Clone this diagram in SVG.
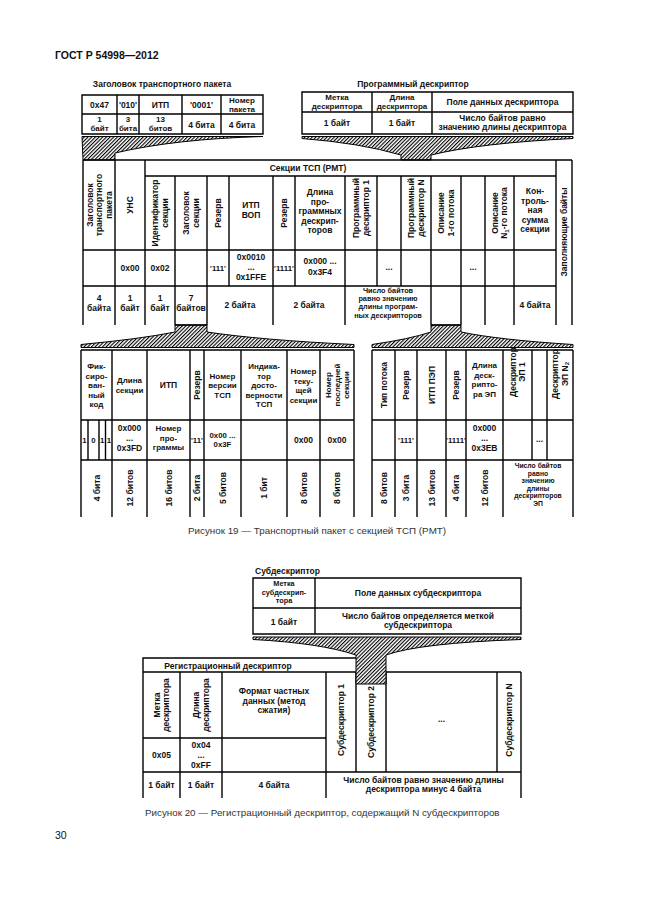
<svg xmlns="http://www.w3.org/2000/svg" width="646" height="913" viewBox="0 0 646 913">
<defs>
<pattern id="hatch" patternUnits="userSpaceOnUse" width="2.6" height="2.6" patternTransform="rotate(45)"><rect width="1.1" height="2.6" fill="#000"/></pattern>
<style>
.t{font-family:"Liberation Sans",Arial,sans-serif;font-weight:bold;font-size:8.5px;text-anchor:middle;fill:#111}
.s{font-size:7.8px}
.e{font-size:8px}
.m{font-size:7.3px}
.xs{font-size:6.8px}
.l{text-anchor:start}
.cap{font-family:"Liberation Sans",Arial,sans-serif;font-size:9.8px;fill:#333}
.g{font-family:"Liberation Sans",Arial,sans-serif;font-weight:bold;font-size:10.5px;fill:#111}
.ln{stroke:#000;stroke-width:1.4;fill:none}
.fn{fill:url(#hatch);stroke:#000;stroke-width:1}
.wh{fill:#fff;stroke:none}
</style>
</defs>
<rect width="646" height="913" fill="#fff"/>
<text class="g" x="55" y="59">ГОСТ Р 54998—2012</text>

<g id="transport-header">
<text class="t" x="162" y="87">Заголовок транспортного пакета</text>
<path class="ln" d="M82,95H263V134H82Z M82,114H263 M117,95V134 M139,95V134 M182,95V134 M221,95V134"/>
<text class="t" x="99.5" y="107.5">0x47</text>
<text class="t" x="128" y="107.5">'010'</text>
<text class="t" x="160.5" y="107.5">ИТП</text>
<text class="t" x="201.5" y="107.5">'0001'</text>
<text class="t e"><tspan x="242" y="103">Номер</tspan><tspan x="242" y="112">пакета</tspan></text>
<text class="t e"><tspan x="99.5" y="122">1</tspan><tspan x="99.5" y="131">байт</tspan></text>
<text class="t e"><tspan x="128" y="122">3</tspan><tspan x="128" y="131">бита</tspan></text>
<text class="t e"><tspan x="160.5" y="122">13</tspan><tspan x="160.5" y="131">битов</tspan></text>
<text class="t" x="201.5" y="127.5">4 бита</text>
<text class="t" x="242" y="127.5">4 бита</text>
</g>

<g id="program-descriptor">
<text class="t" x="413" y="87">Программный дескриптор</text>
<path class="ln" d="M302,92H573V134H302Z M302,112H573 M372,92V134 M432,92V134"/>
<text class="t e"><tspan x="337" y="100">Метка</tspan><tspan x="337" y="109">дескриптора</tspan></text>
<text class="t e"><tspan x="402" y="100">Длина</tspan><tspan x="402" y="109">дескриптора</tspan></text>
<text class="t" x="502.5" y="105">Поле данных дескриптора</text>
<text class="t" x="337" y="126">1 байт</text>
<text class="t" x="402" y="126">1 байт</text>
<text class="t"><tspan x="502.5" y="120.5">Число байтов равно</tspan><tspan x="502.5" y="130.1">значению длины дескриптора</tspan></text>
</g>

<g id="pmt-section">
<path class="ln" d="M83,160H572 M83,160V325 M572,160V325 M115,160V325 M145,160V325 M556,160V325 M145,176H556 M175,176V325 M207,176V325 M273,176V325 M345,176V325 M431,176V325 M461,176V325 M485,176V325 M514,176V325 M229,176V286 M295,176V286 M377,176V286 M401,176V286 M83,250H556 M83,286H556 M175,325H207 M431,325H461"/>
<text class="t" x="308" y="171">Секции ТСП (PMT)</text>
<text class="t" transform="translate(99,205) rotate(-90)"><tspan x="0" y="-6.5">Заголовок</tspan><tspan x="0" y="3">транспортного</tspan><tspan x="0" y="12.5">пакета</tspan></text>
<text class="t" transform="translate(130,205) rotate(-90)" x="0" y="3">УНС</text>
<text class="t" transform="translate(160,213) rotate(-90)"><tspan x="0" y="-1.75">Идентификатор</tspan><tspan x="0" y="7.75">секции</tspan></text>
<text class="t" transform="translate(191,213) rotate(-90)"><tspan x="0" y="-1.75">Заголовок</tspan><tspan x="0" y="7.75">секции</tspan></text>
<text class="t" transform="translate(218,213) rotate(-90)" x="0" y="3">Резерв</text>
<text class="t"><tspan x="251" y="208">ИТП</tspan><tspan x="251" y="217.5">ВОП</tspan></text>
<text class="t" transform="translate(284,213) rotate(-90)" x="0" y="3">Резерв</text>
<text class="t"><tspan x="320" y="195">Длина</tspan><tspan x="320" y="204.5">про-</tspan><tspan x="320" y="214">граммных</tspan><tspan x="320" y="223.5">дескрип-</tspan><tspan x="320" y="233">торов</tspan></text>
<text class="t" transform="translate(361,208) rotate(-90)"><tspan x="0" y="-1.75">Программный</tspan><tspan x="0" y="7.75">дескриптор 1</tspan></text>
<text class="t" transform="translate(416,208) rotate(-90)"><tspan x="0" y="-1.75">Программный</tspan><tspan x="0" y="7.75">дескриптор N</tspan></text>
<text class="t" transform="translate(446,213) rotate(-90)"><tspan x="0" y="-1.75">Описание</tspan><tspan x="0" y="7.75">1-го потока</tspan></text>
<text class="t" transform="translate(499.5,213) rotate(-90)"><tspan x="0" y="-1.75">Описание</tspan><tspan x="0" y="7.75">N<tspan dy="1.5" font-size="6">1</tspan><tspan dy="-1.5">-го потока</tspan></tspan></text>
<text class="t"><tspan x="535" y="194">Кон-</tspan><tspan x="535" y="203.5">троль-</tspan><tspan x="535" y="213">ная</tspan><tspan x="535" y="222.5">сумма</tspan><tspan x="535" y="232">секции</tspan></text>
<text class="t" transform="translate(564,232) rotate(-90)" x="0" y="3">Заполняющие байты</text>
<text class="t" x="130" y="271">0x00</text>
<text class="t" x="160" y="271">0x02</text>
<text class="t s" x="218" y="271">'111'</text>
<text class="t"><tspan x="251" y="260">0x0010</tspan><tspan x="251" y="270">...</tspan><tspan x="251" y="280">0x1FFE</tspan></text>
<text class="t s" x="284" y="271">'1111'</text>
<text class="t"><tspan x="320" y="264">0x000 ...</tspan><tspan x="320" y="275">0x3F4</tspan></text>
<text class="t" x="389" y="270">...</text>
<text class="t" x="473" y="270">...</text>
<text class="t"><tspan x="99" y="301">4</tspan><tspan x="99" y="311">байта</tspan></text>
<text class="t"><tspan x="130" y="301">1</tspan><tspan x="130" y="311">байт</tspan></text>
<text class="t"><tspan x="160" y="301">1</tspan><tspan x="160" y="311">байт</tspan></text>
<text class="t"><tspan x="191" y="301">7</tspan><tspan x="191" y="311">байтов</tspan></text>
<text class="t" x="240" y="308">2 байта</text>
<text class="t" x="309" y="308">2 байта</text>
<text class="t m"><tspan x="388" y="293">Число байтов</tspan><tspan x="388" y="301.2">равно значению</tspan><tspan x="388" y="309.4">длины програм-</tspan><tspan x="388" y="317.6">ных дескрипторов</tspan></text>
<text class="t" x="535" y="308">4 байта</text>
</g>

<g id="pmt-section-header">
<path class="ln" d="M81,350H354 M81,350V517 M354,350V517 M112,350V517 M147,350V517 M190,350V517 M204,350V517 M241,350V517 M287,350V517 M320,350V517 M81,420H354 M81,460H354 M88,420V460 M99,420V460 M105.5,420V460"/>
<text class="t e"><tspan x="96.5" y="369">Фик-</tspan><tspan x="96.5" y="378.5">сиро-</tspan><tspan x="96.5" y="388">ван-</tspan><tspan x="96.5" y="397.5">ный</tspan><tspan x="96.5" y="407">код</tspan></text>
<text class="t e"><tspan x="129.5" y="383">Длина</tspan><tspan x="129.5" y="392.5">секции</tspan></text>
<text class="t" x="168.5" y="388">ИТП</text>
<text class="t" transform="translate(197,385) rotate(-90)" x="0" y="3">Резерв</text>
<text class="t e"><tspan x="222.5" y="378.5">Номер</tspan><tspan x="222.5" y="388">версии</tspan><tspan x="222.5" y="397.5">ТСП</tspan></text>
<text class="t e"><tspan x="264" y="369">Индика-</tspan><tspan x="264" y="378.5">тор</tspan><tspan x="264" y="388">досто-</tspan><tspan x="264" y="397.5">верности</tspan><tspan x="264" y="407">ТСП</tspan></text>
<text class="t e"><tspan x="303.5" y="374">Номер</tspan><tspan x="303.5" y="383.5">теку-</tspan><tspan x="303.5" y="393">щей</tspan><tspan x="303.5" y="402.5">секции</tspan></text>
<text class="t e" transform="translate(337,385) rotate(-90)"><tspan x="0" y="-6">Номер</tspan><tspan x="0" y="3">последней</tspan><tspan x="0" y="12">секции</tspan></text>
<text class="t s" x="84.5" y="443">1</text>
<text class="t s" x="93.5" y="443">0</text>
<text class="t s" x="102.2" y="443">1</text>
<text class="t s" x="108.8" y="443">1</text>
<text class="t"><tspan x="129.5" y="430.5">0x000</tspan><tspan x="129.5" y="440.5">...</tspan><tspan x="129.5" y="451">0x3FD</tspan></text>
<text class="t e"><tspan x="168.5" y="431">Номер</tspan><tspan x="168.5" y="440.5">про-</tspan><tspan x="168.5" y="450">граммы</tspan></text>
<text class="t s" x="197" y="443">'11'</text>
<text class="t s"><tspan x="222.5" y="438">0x00 ...</tspan><tspan x="222.5" y="447">0x3F</tspan></text>
<text class="t" x="303.5" y="443">0x00</text>
<text class="t" x="337" y="443">0x00</text>
<text class="t" transform="translate(96.5,488) rotate(-90)" x="0" y="3">4 бита</text>
<text class="t" transform="translate(129.5,488) rotate(-90)" x="0" y="3">12 битов</text>
<text class="t" transform="translate(168.5,488) rotate(-90)" x="0" y="3">16 битов</text>
<text class="t" transform="translate(197,488) rotate(-90)" x="0" y="3">2 бита</text>
<text class="t" transform="translate(222.5,488) rotate(-90)" x="0" y="3">5 битов</text>
<text class="t" transform="translate(264,488) rotate(-90)" x="0" y="3">1 бит</text>
<text class="t" transform="translate(303.5,488) rotate(-90)" x="0" y="3">8 битов</text>
<text class="t" transform="translate(337,488) rotate(-90)" x="0" y="3">8 битов</text>
</g>

<g id="es-info">
<path class="ln" d="M372,350H573 M372,350V517 M573,350V517 M395,350V517 M417,350V517 M446,350V517 M466,350V517 M503,350V517 M532,350V460 M547,350V460 M372,420H573 M372,460H573"/>
<text class="t" transform="translate(383.5,385) rotate(-90)" x="0" y="3">Тип потока</text>
<text class="t" transform="translate(406,385) rotate(-90)" x="0" y="3">Резерв</text>
<text class="t" transform="translate(431.5,385) rotate(-90)" x="0" y="3">ИТП ПЭП</text>
<text class="t" transform="translate(456,385) rotate(-90)" x="0" y="3">Резерв</text>
<text class="t e"><tspan x="484.5" y="368">Длина</tspan><tspan x="484.5" y="377.5">деск-</tspan><tspan x="484.5" y="387">рипто-</tspan><tspan x="484.5" y="396.5">ра ЭП</tspan></text>
<text class="t" transform="translate(517.5,372) rotate(-90)"><tspan x="0" y="-1.75">Дескриптор</tspan><tspan x="0" y="7.75">ЭП 1</tspan></text>
<text class="t" transform="translate(560,374) rotate(-90)"><tspan x="0" y="-1.75">Дескриптор</tspan><tspan x="0" y="7.75">ЭП N<tspan dy="1.5" font-size="6">2</tspan></tspan></text>
<text class="t s" x="406" y="443">'111'</text>
<text class="t s" x="456" y="443">'1111'</text>
<text class="t"><tspan x="484.5" y="430.5">0x000</tspan><tspan x="484.5" y="440.5">...</tspan><tspan x="484.5" y="451">0x3EB</tspan></text>
<text class="t" x="539.5" y="442">...</text>
<text class="t" transform="translate(383.5,488) rotate(-90)" x="0" y="3">8 битов</text>
<text class="t" transform="translate(406,488) rotate(-90)" x="0" y="3">3 бита</text>
<text class="t" transform="translate(431.5,488) rotate(-90)" x="0" y="3">13 битов</text>
<text class="t" transform="translate(456,488) rotate(-90)" x="0" y="3">4 бита</text>
<text class="t" transform="translate(484.5,488) rotate(-90)" x="0" y="3">12 битов</text>
<text class="t xs"><tspan x="538" y="468">Число байтов</tspan><tspan x="538" y="475.6">равно</tspan><tspan x="538" y="483.2">значению</tspan><tspan x="538" y="490.8">длины</tspan><tspan x="538" y="498.4">дескрипторов</tspan><tspan x="538" y="506">ЭП</tspan></text>
</g>

<text class="cap" x="188" y="534">Рисунок 19 — Транспортный пакет с секцией ТСП (PMT)</text>

<g id="subdescriptor">
<text class="t l" x="255" y="574">Субдескриптор</text>
<path class="ln" d="M253,578H521V634H253Z M253,608H521 M315,578V634"/>
<text class="t m"><tspan x="284" y="586">Метка</tspan><tspan x="284" y="594.5">субдескрип-</tspan><tspan x="284" y="603">тора</tspan></text>
<text class="t" x="418" y="596">Поле данных субдескриптора</text>
<text class="t" x="284" y="624.5">1 байт</text>
<text class="t"><tspan x="418" y="618.5">Число байтов определяется меткой</tspan><tspan x="418" y="628">субдескриптора</tspan></text>
</g>

<g id="registration-descriptor">
<path class="ln" d="M143,672V658H356 M143,672H521 M143,672V798 M521,672V798 M180,672V798 M222,672V798 M326,672V798 M356,672V772 M386,672V772 M497,672V772 M143,738H326 M143,772H521"/>
<text class="t" x="228" y="668.5">Регистрационный дескриптор</text>
<text class="t" transform="translate(161.5,705) rotate(-90)"><tspan x="0" y="-1.75">Метка</tspan><tspan x="0" y="7.75">дескриптора</tspan></text>
<text class="t" transform="translate(201,705) rotate(-90)"><tspan x="0" y="-1.75">Длина</tspan><tspan x="0" y="7.75">дескриптора</tspan></text>
<text class="t"><tspan x="274" y="694">Формат частных</tspan><tspan x="274" y="703.5">данных (метод</tspan><tspan x="274" y="713">сжатия)</tspan></text>
<text class="t" transform="translate(341,720) rotate(-90)" x="0" y="3">Субдескриптор 1</text>
<text class="t" transform="translate(371,722) rotate(-90)" x="0" y="3">Субдескриптор 2</text>
<text class="t" x="441.5" y="722">...</text>
<text class="t" transform="translate(509,720) rotate(-90)" x="0" y="3">Субдескриптор N</text>
<text class="t" x="161.5" y="758">0x05</text>
<text class="t"><tspan x="201" y="748">0x04</tspan><tspan x="201" y="758">...</tspan><tspan x="201" y="768">0xFF</tspan></text>
<text class="t" x="161.5" y="788">1 байт</text>
<text class="t" x="201" y="788">1 байт</text>
<text class="t" x="274" y="788">4 байта</text>
<text class="t"><tspan x="423.5" y="782.5">Число байтов равно значению длины</tspan><tspan x="423.5" y="792">дескриптора минус 4 байта</tspan></text>
</g>

<text class="cap" x="145" y="816">Рисунок 20 — Регистрационный дескриптор, содержащий N субдескрипторов</text>
<text class="cap" x="55" y="839" style="font-size:10.5px;fill:#111">30</text>

<g id="connectors">
<path class="fn" d="M82,136.5L263,136.5Q175,139 115,153L115,160L83,160Z"/>
<path class="fn" d="M302,136.5L573,136.5L573,138.5Q480,143 431,155L431,160L401,160L401,155Q360,143 302,138.5Z"/>
<path class="fn" d="M175,325L207,325L207,332Q260,340 354,344.5L354,347.5L81,347.5L81,344.5Q140,339 175,332Z"/>
<path class="fn" d="M431,325L461,325L461,332Q500,340 573,344.5L573,347.5L372,347.5L372,344.5Q410,339 431,332Z"/>
<path class="wh" d="M253,637L521,637L521,639.5Q420,643 386,655L386,684L356,684L356,655Q320,643 253,639.5Z"/>
<path class="fn" d="M253,637L521,637L521,639.5Q420,643 386,655L386,684L356,684L356,655Q320,643 253,639.5Z"/>
</g>
</svg>
